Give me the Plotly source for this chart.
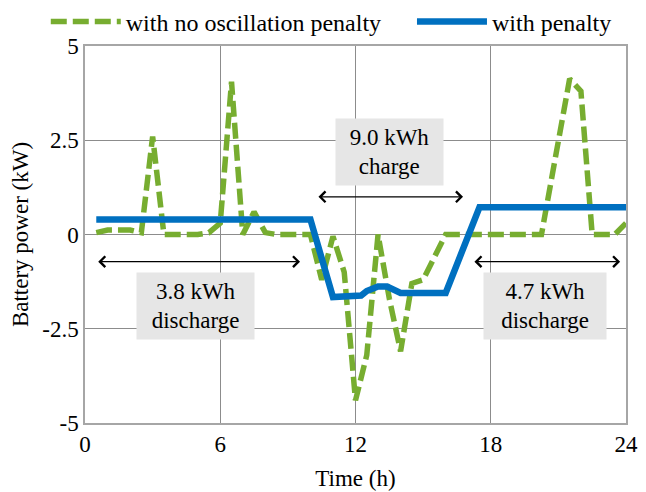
import plotly.graph_objects as go

# ---- data ----
t_no_penalty = [0.5, 1.0, 1.5, 2.0, 2.5, 3.0, 3.5, 4.0, 4.5, 5.0, 5.5, 6.0, 6.5, 7.0, 7.5, 8.0, 8.5,
                9.0, 9.5, 10.0, 10.5, 11.0, 11.5, 12.0, 12.5, 13.0, 13.5, 14.0, 14.5, 15.0, 15.5, 16.0,
                17.0, 18.0, 19.0, 20.0, 20.25, 21.5, 22.0, 22.5, 23.0, 23.5, 24.0]
p_no_penalty = [0.05, 0.12, 0.12, 0.12, 0.05, 2.6, 0.0, 0.0, 0.0, 0.0, 0.05, 0.3, 4.05, 0.0, 0.6, 0.05, 0.0,
                0.0, 0.0, 0.0, -1.2, -0.05, -1.0, -4.4, -3.2, 0.0, -1.7, -3.1, -1.3, -1.2, -0.6, 0.0,
                0.0, 0.0, 0.0, 0.0, 0.0, 4.13, 3.8, 0.0, 0.0, 0.0, 0.3]

t_penalty = [0.5, 10.0, 11.0, 12.0, 12.25, 12.5, 12.75, 13.0, 13.4, 13.7, 14.0, 16.0, 17.5, 24.0]
p_penalty = [0.4, 0.4, -1.66, -1.66, -1.62, -1.5, -1.42, -1.38, -1.38, -1.48, -1.55, -1.55, 0.72, 0.72]

x_ticks = [0, 6, 12, 18, 24]
y_ticks = [5, 2.5, 0, -2.5, -5]
y_tick_text = ["5", "2.5", "0", "-2.5", "-5"]

series_names = ["with no oscillation penalty", "with penalty"]
box_labels = ["3.8 kWh<br>discharge", "9.0 kWh<br>charge", "4.7 kWh<br>discharge"]

FONT = "Liberation Serif, Times New Roman, serif"
GREEN = "#77ad30"
BLUE = "#0070c0"

fig = go.Figure()
fig.add_trace(go.Scatter(x=t_no_penalty, y=p_no_penalty, mode="lines", name=series_names[0],
                         legend="legend", showlegend=True,
                         line=dict(color=GREEN, width=5.5, dash="16px,6px")))
fig.add_trace(go.Scatter(x=t_penalty, y=p_penalty, mode="lines", name=series_names[1],
                         legend="legend2", showlegend=True,
                         line=dict(color=BLUE, width=6.5)))

# double-headed arrows
arrows = [(0.52, 9.54, -0.72), (10.29, 16.77, 1.0), (17.21, 23.74, -0.72)]
for x0, x1, y in arrows:
    fig.add_annotation(x=x1, y=y, ax=x0, ay=y, xref="x", yref="y", axref="x", ayref="y",
                       text="", showarrow=True, arrowhead=4, startarrowhead=4,
                       arrowside="end+start", arrowsize=1.6, startarrowsize=1.6,
                       arrowwidth=1.3, arrowcolor="black")

# grey label boxes
boxes = [(4.90, -1.9, 117), (13.53, 2.2, 107), (20.41, -1.9, 122)]
for (bx, by, bw), label in zip(boxes, box_labels):
    fig.add_annotation(x=bx, y=by, xref="x", yref="y", text=label, showarrow=False,
                       bgcolor="#e6e6e6", width=bw, height=66, borderpad=0,
                       font=dict(family=FONT, size=23, color="black"), align="center",
                       xanchor="center", yanchor="middle")

axis_line = dict(showline=True, mirror=True, linecolor="#a6a6a6", linewidth=1.5,
                 showgrid=True, gridcolor="#8c8c8c", gridwidth=1, zeroline=False,
                 ticks="", tickfont=dict(family=FONT, size=23, color="black"))

fig.update_xaxes(range=[0, 24], tickvals=x_ticks, **axis_line, ticklabeloverflow="allow",
                 title=dict(text="Time (h)", font=dict(family=FONT, size=23, color="black"), standoff=14))
fig.update_yaxes(range=[-5, 5], tickvals=y_ticks, ticktext=y_tick_text, **axis_line,
                 title=dict(text="Battery power (kW)", font=dict(family=FONT, size=23, color="black"), standoff=11))

leg_common = dict(orientation="h", yanchor="middle", xanchor="left",
                  font=dict(family=FONT, size=24, color="black"),
                  itemwidth=70, bgcolor="rgba(0,0,0,0)", entrywidthmode="pixels")

# page body has an 8px margin: size the figure so everything stays visible in the window
fig.update_layout(
    width=638, height=484,
    showlegend=True,
    margin=dict(l=77, r=20, t=38, b=69, autoexpand=False),
    plot_bgcolor="white", paper_bgcolor="white",
    font=dict(family=FONT, size=23, color="black"),
    legend=dict(x=-0.0725, y=1.0637, entrywidth=300, **leg_common),
    legend2=dict(x=0.6044, y=1.0637, entrywidth=150, **leg_common),
)

fig.write_html("out.html")
